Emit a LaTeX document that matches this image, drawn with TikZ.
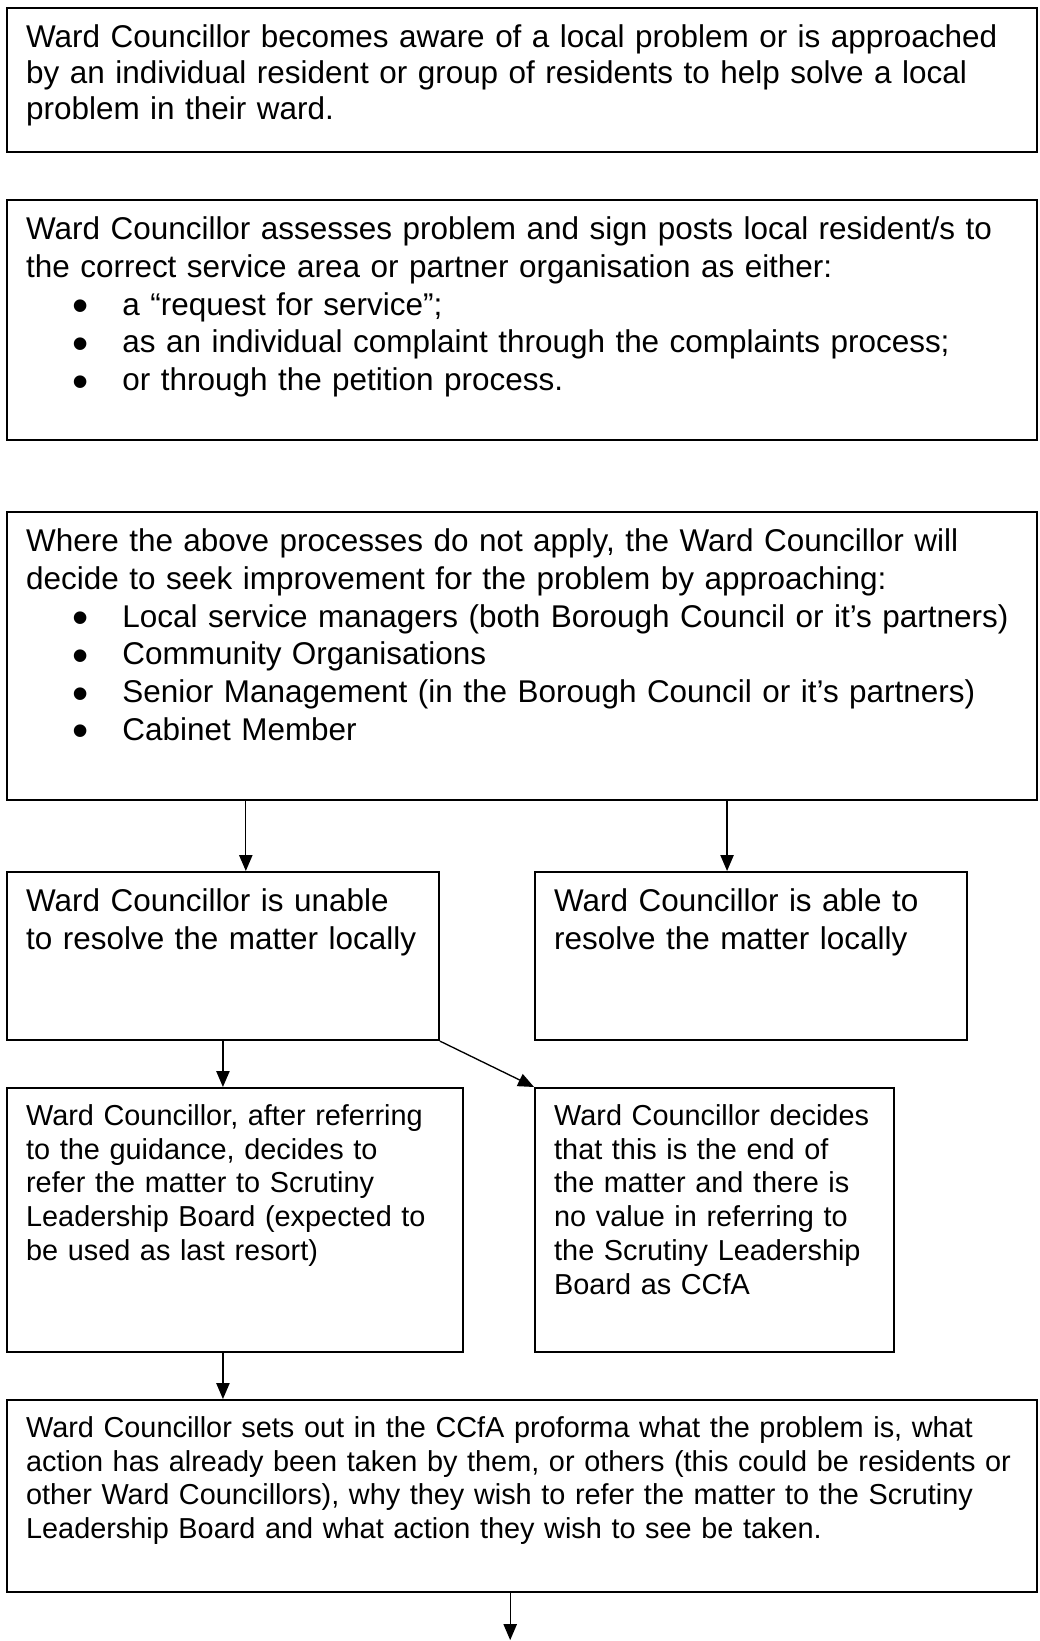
\documentclass[tikz,border=0pt]{standalone}
\usepackage{fontspec}
\usepackage{graphicx}
\setmainfont{Liberation Sans}
\usetikzlibrary{arrows.meta}
\hyphenpenalty=10000
\exhyphenpenalty=10000
\newcommand{\wbullet}{\hspace*{17.3pt}\makebox[18.9pt][l]{\raisebox{-2.4pt}{\scalebox{1.47}{\textbullet}}}}

\begin{document}
\begin{tikzpicture}[
	wardbox/.style={draw, line width=0.75pt, anchor=north west, inner xsep=7.2pt, inner ysep=6pt, align=left},
	wardbig/.style={font=\fontsize{11.83}{14.2}\selectfont, text height=8.9pt},
	wardsmall/.style={font=\fontsize{10.85}{12.7}\selectfont, text height=8pt},
	flow/.style={-{Triangle[length=6pt,width=5pt]}, line width=0.5pt}]
	\useasboundingbox (0,0) rectangle (13.742,-21.685);

	\node[wardbox, wardbig, font=\fontsize{11.83}{13.6}\selectfont, text width=373pt, text depth=33.3pt] (aware) at (0.079,-0.088)
		{Ward Councillor becomes aware of a local problem or is approached\\
		by an individual resident or group of residents to help solve a local\\
		problem in their ward.};
	\node[wardbox, wardbig, text width=373pt, text depth=69.4pt] (assess) at (0.079,-2.629)
		{Ward Councillor assesses problem and sign posts local resident/s to\\
		the correct service area or partner organisation as either:\\
		\wbullet a “request for service”;\\
		\wbullet as an individual complaint through the complaints process;\\
		\wbullet or through the petition process.};
	\node[wardbox, wardbig, text width=373pt, text depth=87.4pt] (approach) at (0.079,-6.752)
		{Where the above processes do not apply, the Ward Councillor will\\
		decide to seek improvement for the problem by approaching:\\
		\wbullet Local service managers (both Borough Council or it’s partners)\\
		\wbullet Community Organisations\\
		\wbullet Senior Management (in the Borough Council or it’s partners)\\
		\wbullet Cabinet Member};

	\node[wardbox, wardbig, text width=148pt, text depth=42.3pt] (unable) at (0.079,-11.510)
		{Ward Councillor is unable\\
		to resolve the matter locally};
	\node[wardbox, wardbig, text width=148pt, text depth=42.3pt] (able) at (7.057,-11.510)
		{Ward Councillor is able to\\
		resolve the matter locally};

	\node[wardbox, wardsmall, text width=157pt, text depth=79.3pt] (refer) at (0.079,-14.364)
		{Ward Councillor, after referring\\
		to the guidance, decides to\\
		refer the matter to Scrutiny\\
		Leadership Board (expected to\\
		be used as last resort)};
	\node[wardbox, wardsmall, text width=120.6pt, text depth=79.3pt] (noref) at (7.057,-14.364)
		{Ward Councillor decides\\
		that this is the end of\\
		the matter and there is\\
		no value in referring to\\
		the Scrutiny Leadership\\
		Board as CCfA};

	\node[wardbox, wardsmall, text width=373pt, text depth=52.2pt] (proforma) at (0.079,-18.487)
		{Ward Councillor sets out in the CCfA proforma what the problem is, what\\
		action has already been taken by them, or others (this could be residents or\\
		other Ward Councillors), why they wish to refer the matter to the Scrutiny\\
		Leadership Board and what action they wish to see be taken.};
	\coordinate (next) at ([xshift=-4.5pt,yshift=-17.7pt]proforma.south);

	\draw[flow] ([xshift=8.6pt]unable.north |- approach.south) -- ([xshift=8.6pt]unable.north);
	\draw[flow] ([xshift=-9pt]able.north |- approach.south) -- ([xshift=-9pt]able.north);
	\draw[flow] (unable.south) -- (unable.south |- refer.north);
	\draw[flow] (unable.south east) -- (noref.north west);
	\draw[flow] ([xshift=-4.5pt]refer.south) -- ([xshift=-4.5pt]refer.south |- proforma.north);
	\draw[flow] ([xshift=-4.5pt]proforma.south) -- (next);
\end{tikzpicture}
\end{document}
